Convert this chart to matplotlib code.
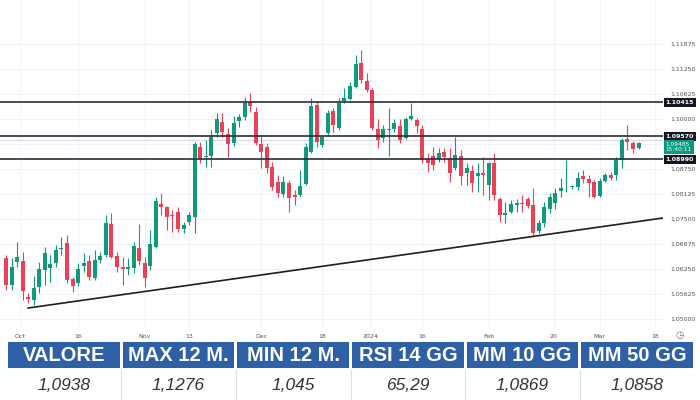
import matplotlib
matplotlib.use("Agg")
import matplotlib.pyplot as plt
import matplotlib.transforms as mtransforms
from matplotlib.patches import Rectangle

# daily EUR/USD candles (oldest first)
opens = [1.06525, 1.0585, 1.06425, 1.0645, 1.0555, 1.05475, 1.058, 1.06225, 1.06275, 1.064,
         1.0675, 1.069, 1.06, 1.059, 1.06325, 1.0645, 1.06025, 1.06475, 1.066, 1.07375,
         1.06575, 1.063, 1.0625, 1.06275, 1.06775, 1.064, 1.06325, 1.068, 1.07875, 1.078,
         1.076, 1.07675, 1.0725, 1.07425, 1.0755, 1.093, 1.0905, 1.09075, 1.0965, 1.09925,
         1.09625, 1.094, 1.0995, 1.1005, 1.10425, 1.10175, 1.09375, 1.093, 1.088, 1.08425,
         1.08125, 1.084, 1.081, 1.081, 1.08375, 1.09175, 1.1035, 1.0935, 1.0965, 1.102,
         1.09775, 1.1045, 1.105, 1.108, 1.114, 1.1095, 1.10725, 1.0975, 1.09525, 1.09725,
         1.0975, 1.09825, 1.09525, 1.1, 1.09975, 1.0975, 1.09, 1.09075, 1.09, 1.09175,
         1.09025, 1.08775, 1.09075, 1.0865, 1.087, 1.08575, 1.0865, 1.0835, 1.089, 1.08,
         1.076, 1.07675, 1.0785, 1.079, 1.08, 1.0785, 1.072, 1.074, 1.0775, 1.079,
         1.082, 1.083, 1.083, 1.083, 1.08575, 1.085, 1.08425, 1.08075, 1.0845, 1.086,
         1.086, 1.08975, 1.095, 1.094, 1.09275]
highs = [1.066, 1.06525, 1.06925, 1.06675, 1.0565, 1.06075, 1.06425, 1.068, 1.066, 1.0685,
         1.0705, 1.071, 1.0605, 1.064, 1.0665, 1.066, 1.06725, 1.06675, 1.076, 1.0765,
         1.06675, 1.0655, 1.06525, 1.06925, 1.07375, 1.0655, 1.07225, 1.0805, 1.0815, 1.07825,
         1.07725, 1.078, 1.07425, 1.07675, 1.09425, 1.09425, 1.09475, 1.09725, 1.1015, 1.1015,
         1.09775, 1.10075, 1.10125, 1.1055, 1.1065, 1.103, 1.096, 1.094, 1.08925, 1.086,
         1.08575, 1.08475, 1.08225, 1.08725, 1.094, 1.10525, 1.10425, 1.096, 1.10225, 1.10275,
         1.10525, 1.10775, 1.10925, 1.116, 1.11725, 1.1115, 1.10775, 1.1, 1.0985, 1.10275,
         1.1, 1.1, 1.1005, 1.104, 1.10025, 1.0985, 1.0915, 1.093, 1.09275, 1.09275,
         1.09275, 1.0955, 1.09225, 1.089, 1.0885, 1.089, 1.0905, 1.08925, 1.0915, 1.0805,
         1.07925, 1.07975, 1.08, 1.081, 1.0805, 1.08275, 1.07475, 1.07925, 1.0815, 1.08275,
         1.08525, 1.08975, 1.0835, 1.08675, 1.08725, 1.086, 1.08475, 1.08525, 1.0865, 1.08675,
         1.0905, 1.09525, 1.0985, 1.0945, 1.09425]
lows = [1.05725, 1.05725, 1.063, 1.05475, 1.054, 1.0535, 1.0565, 1.0585, 1.05925, 1.063,
        1.066, 1.059, 1.05675, 1.05825, 1.06175, 1.05975, 1.05975, 1.064, 1.0655, 1.06525,
        1.06175, 1.0585, 1.061, 1.0615, 1.0635, 1.058, 1.06225, 1.06775, 1.076, 1.07225,
        1.07175, 1.07175, 1.0715, 1.0735, 1.0715, 1.089, 1.088, 1.088, 1.0955, 1.0955,
        1.0905, 1.09325, 1.098, 1.09975, 1.10175, 1.0935, 1.08775, 1.0865, 1.08225, 1.0805,
        1.0805, 1.07675, 1.0785, 1.0805, 1.0835, 1.0915, 1.093, 1.093, 1.096, 1.09675,
        1.09725, 1.104, 1.10475, 1.10775, 1.109, 1.10675, 1.09725, 1.09275, 1.09425, 1.09075,
        1.09675, 1.094, 1.095, 1.09975, 1.0965, 1.089, 1.08675, 1.08725, 1.08925, 1.08925,
        1.08425, 1.08725, 1.0835, 1.0835, 1.08175, 1.08175, 1.081, 1.07975, 1.07975, 1.07425,
        1.074, 1.0765, 1.07675, 1.07675, 1.07775, 1.071, 1.0715, 1.073, 1.0765, 1.0775,
        1.0805, 1.08175, 1.0825, 1.08225, 1.084, 1.0805, 1.08025, 1.0805, 1.08425, 1.08475,
        1.08475, 1.08775, 1.09225, 1.0915, 1.0925]
closes = [1.0585, 1.063, 1.0655, 1.057, 1.055, 1.05775, 1.0625, 1.0665, 1.06375, 1.06725,
          1.06775, 1.05975, 1.05825, 1.0625, 1.064, 1.0605, 1.06475, 1.06575, 1.074, 1.0655,
          1.063, 1.0625, 1.063, 1.06825, 1.0645, 1.06025, 1.06875, 1.0795, 1.078, 1.0755,
          1.07575, 1.0725, 1.0735, 1.076, 1.09375, 1.09, 1.09075, 1.0955, 1.1, 1.09675,
          1.09375, 1.099, 1.1005, 1.104, 1.10325, 1.094, 1.09175, 1.08775, 1.083, 1.0815,
          1.08425, 1.08025, 1.0805, 1.08325, 1.093, 1.10325, 1.09425, 1.0955, 1.1015, 1.0985,
          1.104, 1.10525, 1.10825, 1.11375, 1.10975, 1.10725, 1.09775, 1.09475, 1.0975, 1.0975,
          1.099, 1.09475, 1.1, 1.10075, 1.09825, 1.08975, 1.089, 1.0885, 1.0915, 1.0905,
          1.0865, 1.091, 1.08575, 1.08775, 1.084, 1.0865, 1.086, 1.089, 1.081, 1.076,
          1.0765, 1.07875, 1.079, 1.07875, 1.07825, 1.0715, 1.074, 1.078, 1.0805, 1.0815,
          1.08275, 1.08305, 1.08325, 1.08525, 1.085, 1.084, 1.0805, 1.0845, 1.086, 1.08525,
          1.08975, 1.09475, 1.09425, 1.0925, 1.094]

x_tick_pos = [2.5, 13, 25, 33, 46, 57, 65.6, 75, 87, 98.7, 107, 117]
x_tick_labels = ["Oct", "16", "Nov", "13", "Dec", "18", "2024", "16", "Feb", "20", "Mar", "18"]
y_ticks = [1.05, 1.05625, 1.0625, 1.06875, 1.075, 1.08125, 1.0875, 1.09375,
           1.1, 1.10625, 1.1125, 1.11875]

levels = [1.10415, 1.09570, 1.08990]
last_price = 1.09485
last_timer = "15:40:11"
trend_x = [4, 118.4]
trend_y = [1.05275, 1.07525]

table_headers = ["VALORE", "MAX 12 M.", "MIN 12 M.", "RSI 14 GG", "MM 10 GG", "MM 50 GG"]
table_values = ["1,0938", "1,1276", "1,045", "65,29", "1,0869", "1,0858"]

UP = "#0f9a7c"
DOWN = "#ec4057"
BLUE = "#2e60a6"

fig = plt.figure(figsize=(7, 4), dpi=100)
ax = fig.add_axes([0, 0.18, 663 / 700, 0.82])

# candles
for i, (o, h, l, c) in enumerate(zip(opens, highs, lows, closes)):
    col = UP if c >= o else DOWN
    ax.vlines(i, l, h, color=col, linewidth=0.8, zorder=3)
    ax.bar(i, max(abs(c - o), 0.00012), bottom=min(o, c), width=0.72,
           color=col, linewidth=0, zorder=4)

for lv in levels:
    ax.axhline(lv, color="#2a2e39", linewidth=1.2, zorder=5)
ax.axhline(last_price, color="#d6d9e0", linewidth=0.8, zorder=2)
ax.plot(trend_x, trend_y, color="#1e1e1e", linewidth=1.2, zorder=5)

ax.set_xlim(-1.08, 118.4)
ax.set_ylim(1.04775, 1.12975)
ax.set_xticks(x_tick_pos)
ax.set_xticklabels(x_tick_labels)
ax.set_yticks(y_ticks)
# the 1.09375 label sits under the live-price box in the reference
ax.set_yticklabels(["" if abs(v - 1.09375) < 1e-9 else f"{v:.5f}" for v in y_ticks])
ax.yaxis.tick_right()
ax.tick_params(axis="x", length=0, pad=4, labelsize=4.5, labelcolor="#555555")
ax.tick_params(axis="y", length=0, pad=5, labelsize=4.5, labelcolor="#555555")
ax.grid(True, color="#f2f3f7", linewidth=0.7, zorder=0)
for s in ax.spines.values():
    s.set_visible(False)

# price scale labels
trans = mtransforms.blended_transform_factory(ax.transAxes, ax.transData)
for lv in levels:
    ax.text(1.004, lv, f"{lv:.5f}", transform=trans, ha="left", va="center",
            fontsize=4.5, color="white", fontweight="bold", clip_on=False, zorder=10,
            bbox=dict(boxstyle="square,pad=0.3", fc="#131722", ec="none"))
ax.text(1.004, last_price - 0.0019, f"{last_price:.5f}\n{last_timer}", transform=trans,
        ha="left", va="center", fontsize=4.2, color="white", linespacing=1.05,
        clip_on=False, zorder=10,
        bbox=dict(boxstyle="square,pad=0.3", fc="#089981", ec="none"))
fig.text(0.971, 0.162, "\u25F7", fontsize=7, color="#777777", ha="center", va="center")

# summary table
tab = fig.add_axes([0, 0, 1, 58 / 400])
tab.set_xlim(0, 700)
tab.set_ylim(58, 0)
tab.axis("off")
n = len(table_headers)
left, right, gap = 8, 693, 3
cw = (right - left - gap * (n - 1)) / n
for k, (hd, val) in enumerate(zip(table_headers, table_values)):
    x0 = left + k * (cw + gap)
    tab.add_patch(Rectangle((x0, 0), cw, 26, color=BLUE, lw=0))
    tab.text(x0 + cw / 2, 13.5, hd, ha="center", va="center", color="white",
             fontsize=14.5, fontweight="bold", family="Liberation Sans")
    tab.text(x0 + cw / 2, 44, val, ha="center", va="center", color="#333333",
             fontsize=12.5, style="italic", family="Liberation Sans")
    if k > 0:
        tab.plot([x0 - gap / 2, x0 - gap / 2], [28, 58], color="#dddddd", lw=0.8)

fig.savefig("out.png", dpi=100)
